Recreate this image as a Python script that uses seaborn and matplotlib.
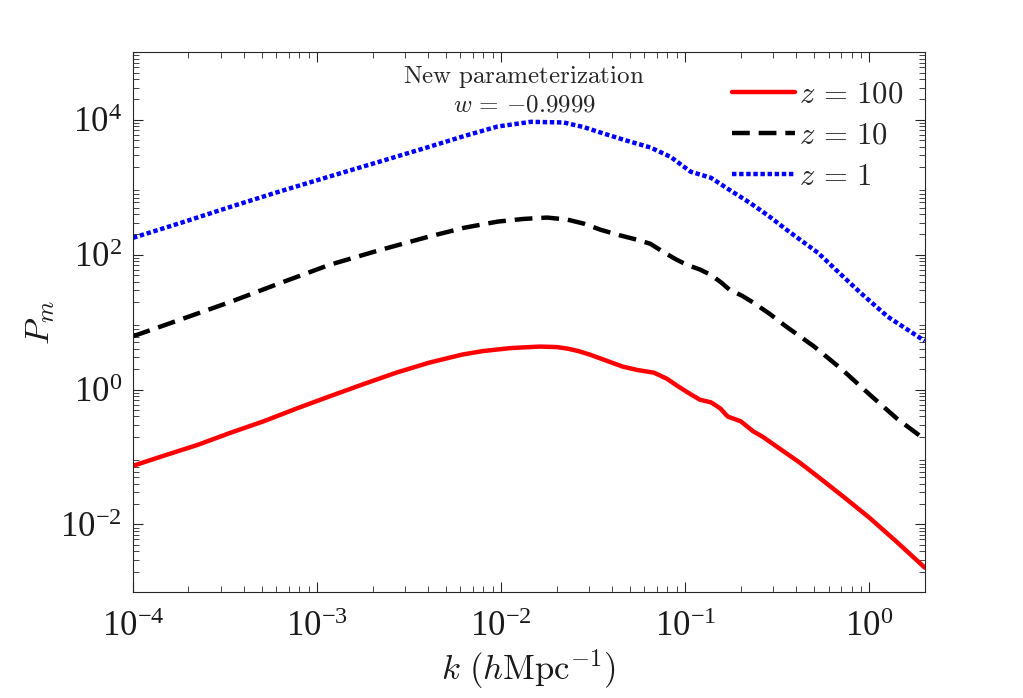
import numpy as np
import pandas as pd
import seaborn as sns
import matplotlib
matplotlib.use("Agg")
import matplotlib.pyplot as plt
from matplotlib.ticker import LogLocator, LogFormatterSciNotation, NullFormatter

# matter power spectrum
k_z100 = [1.0e-4, 1.51e-4, 2.24e-4, 3.39e-4, 5.13e-4, 7.76e-4, 1.17e-3, 1.78e-3, 2.69e-3,
          4.07e-3, 6.17e-3, 7.94e-3, 1.12e-2, 1.62e-2, 2.0e-2, 2.29e-2, 2.63e-2, 3.02e-2,
          3.72e-2, 4.57e-2, 5.5e-2, 6.76e-2, 7.94e-2, 9.12e-2, 0.107, 0.120, 0.138,
          0.155, 0.170, 0.200, 0.234, 0.263, 0.331, 0.417, 0.525, 0.724, 1.0, 1.41, 2.0]
p_z100 = [0.0741, 0.107, 0.151, 0.229, 0.339, 0.525, 0.794, 1.20, 1.78,
          2.51, 3.31, 3.72, 4.12, 4.34, 4.27, 4.05, 3.72, 3.31,
          2.69, 2.19, 1.95, 1.78, 1.45, 1.12, 0.851, 0.708, 0.646,
          0.525, 0.398, 0.339, 0.240, 0.200, 0.129, 0.0832, 0.0513, 0.0257, 0.0126, 0.0055, 0.00229]

k_z10 = [1e-4, 1.86e-4, 3.39e-4, 6.31e-4, 1.17e-3, 2.19e-3, 4.07e-3, 6.31e-3, 9.55e-3,
         1.32e-2, 1.78e-2, 2.29e-2, 2.82e-2, 3.47e-2, 4.37e-2, 5.5e-2, 6.46e-2, 7.59e-2,
         8.91e-2, 0.102, 0.120, 0.138, 0.158, 0.174, 0.204, 0.234, 0.288, 0.355, 0.50,
         0.708, 1.0, 1.41, 2.0]
p_z10 = [6.17, 11.2, 20.0, 38.0, 70.8, 117, 186, 251, 309,
         339, 355, 331, 288, 234, 195, 166, 145, 110,
         85.1, 70.8, 60.3, 50.1, 38.0, 30.2, 24.5, 19.5, 13.2, 8.51, 4.37,
         2.0, 0.851, 0.372, 0.182]

k_z1 = [1e-4, 1.86e-4, 3.39e-4, 6.31e-4, 1.17e-3, 2.19e-3, 4.07e-3, 6.31e-3, 9.55e-3,
        1.45e-2, 2.19e-2, 2.82e-2, 3.47e-2, 4.68e-2, 6.46e-2, 8.32e-2, 0.107, 0.138,
        0.174, 0.224, 0.282, 0.355, 0.525, 0.692, 0.891, 1.26, 2.0]
p_z1 = [178, 302, 513, 871, 1445, 2399, 3981, 5754, 7943,
        9333, 9120, 7762, 6457, 5012, 3890, 2818, 1698, 1380,
        912, 589, 380, 234, 107, 52.5, 27.5, 12.0, 5.25]

labels = [r"$z\,=\,100$", r"$z\,=\,10$", r"$z\,=\,1$"]
colors = ["#ff0000", "#000000", "#0000ff"]
styles = ["-", (0, (4, 2)), (0, (1, 0.6))]

sns.set_theme(style="ticks")
plt.rcParams["font.family"] = ["Liberation Serif", "DejaVu Serif"]
plt.rcParams["mathtext.fontset"] = "cm"
plt.rcParams["xtick.direction"] = "in"
plt.rcParams["ytick.direction"] = "in"

fig = plt.figure(figsize=(10.23, 6.98), dpi=100)
ax = fig.add_axes([0.130, 0.152, 0.774, 0.773])

series = [(k_z100, p_z100), (k_z10, p_z10), (k_z1, p_z1)]
for (kk, pp), lab, c, ls in zip(series, labels, colors, styles):
    df = pd.DataFrame({"k": kk, "P": pp})
    sns.lineplot(data=df, x="k", y="P", ax=ax, color=c, linewidth=3.2,
                 linestyle=ls, label=lab)

ax.set_xscale("log")
ax.set_yscale("log")
ax.set_xlim(1e-4, 2)
ax.set_ylim(1e-3, 1e5)

ax.xaxis.set_major_locator(LogLocator(base=10, numticks=10))
ax.set_yticks([1e-2, 1e0, 1e2, 1e4])
ax.xaxis.set_minor_locator(LogLocator(base=10, subs=np.arange(2, 10), numticks=20))
ax.yaxis.set_minor_locator(LogLocator(base=10, subs=np.arange(2, 10), numticks=20))
ax.xaxis.set_major_formatter(LogFormatterSciNotation())
ax.yaxis.set_major_formatter(LogFormatterSciNotation())
ax.xaxis.set_minor_formatter(NullFormatter())
ax.yaxis.set_minor_formatter(NullFormatter())

ax.tick_params(which="both", direction="in", top=True, right=True,
               colors="#262626", labelcolor="#1a1a1a")
ax.tick_params(which="major", length=7, width=0.8, labelsize=25)
ax.tick_params(axis="x", which="major", pad=14)
ax.tick_params(axis="y", which="major", pad=8)
ax.tick_params(which="minor", length=4, width=0.6)
for s in ax.spines.values():
    s.set_color("#262626")
    s.set_linewidth(0.8)

ax.set_xlabel(r"$k\ (h\mathrm{Mpc}^{-1})$", fontsize=25, color="#1a1a1a", labelpad=2)
ax.set_ylabel(r"$P_m$", fontsize=25, color="#1a1a1a", labelpad=2)

ax.text(0.494, 0.955, r"$\mathrm{New\ parameterization}$", transform=ax.transAxes,
        ha="center", va="center", fontsize=18)
ax.text(0.494, 0.902, r"$w\,=\,{-}0.9999$", transform=ax.transAxes,
        ha="center", va="center", fontsize=18)

ax.legend(loc="upper right", bbox_to_anchor=(1.0, 0.988), frameon=False, fontsize=22,
          handlelength=2.05, handletextpad=0.15, labelspacing=0.4, borderaxespad=0.3)

fig.savefig("out.png", dpi=100)
